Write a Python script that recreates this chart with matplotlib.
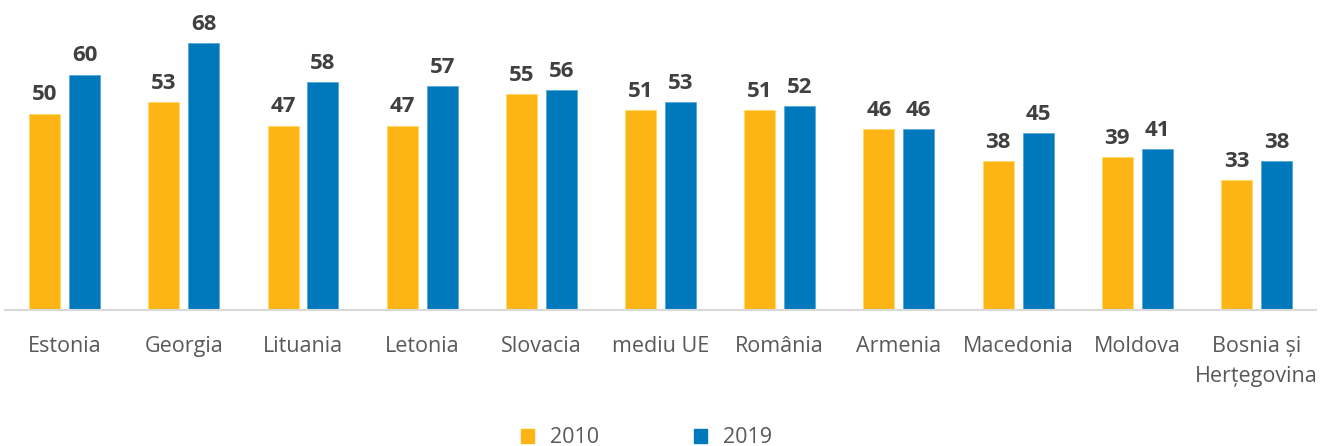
import matplotlib
matplotlib.use("Agg")
import matplotlib.pyplot as plt
import numpy as np
from matplotlib.patches import Patch

plt.rcParams['font.family'] = ['Open Sans', 'DejaVu Sans']

categories = ["Estonia", "Georgia", "Lituania", "Letonia", "Slovacia", "mediu UE",
              "România", "Armenia", "Macedonia", "Moldova", "Bosnia și\nHerțegovina"]
values_2010 = [50, 53, 47, 47, 55, 51, 51, 46, 38, 39, 33]
values_2019 = [60, 68, 58, 57, 56, 53, 52, 46, 45, 41, 38]
series_labels = ["2010", "2019"]

color_2010 = "#FDB515"
color_2019 = "#0079BC"

fig = plt.figure(figsize=(13.28, 4.46), dpi=100)
ax = fig.add_axes([0.0038, 0.305, 0.9872, 0.695])

x = np.arange(len(categories))
w = 0.26
off = 0.1675
b1 = ax.bar(x - off, values_2010, w, color=color_2010, edgecolor="#FFD966", linewidth=0.6)
b2 = ax.bar(x + off, values_2019, w, color=color_2019, edgecolor="#5BA9D6", linewidth=0.6)

for bars in (b1, b2):
    for rect in bars:
        h = rect.get_height()
        ax.annotate(f"{h:.0f}", (rect.get_x() + rect.get_width() / 2, h),
                    xytext=(0, 6), textcoords="offset points",
                    ha="center", va="bottom", fontsize=16, fontweight="bold",
                    color="#404040")

ax.set_xlim(-0.5, len(categories) - 0.5)
ax.set_ylim(0, 79)
ax.set_xticks(x)
ax.set_xticklabels(categories, fontsize=15.5, color="#595959", linespacing=1.55)
ax.tick_params(axis="x", length=0, pad=19)
ax.set_yticks([])
for s in ("top", "right", "left"):
    ax.spines[s].set_visible(False)
ax.spines["bottom"].set_color("#D9D9D9")
ax.spines["bottom"].set_linewidth(1.5)

handles = [Patch(color=color_2010), Patch(color=color_2019)]
fig.legend(handles, series_labels, loc="center", bbox_to_anchor=(0.487, 0.018),
           ncol=2, frameon=False, fontsize=15.5, labelcolor="#595959",
           handlelength=0.6, handleheight=0.6, columnspacing=4.4, handletextpad=0.75)

fig.savefig("out.png", dpi=100)
